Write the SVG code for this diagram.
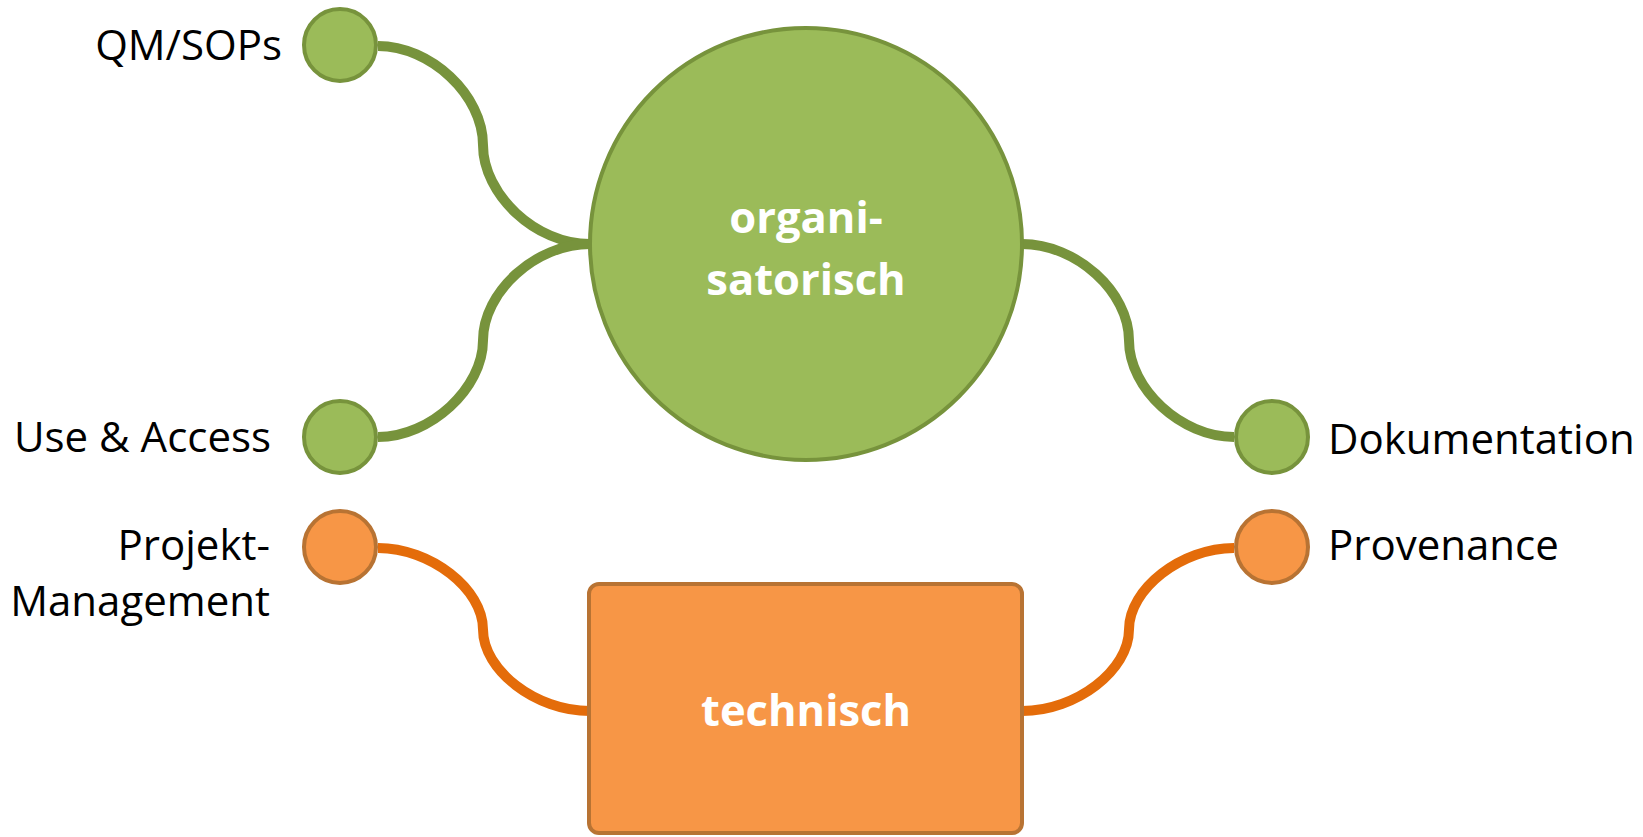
<svg xmlns="http://www.w3.org/2000/svg" width="1643" height="837" viewBox="0 0 1643 837">
<style>
.gl{fill:none;stroke:#77933C;stroke-width:10}
.ol{fill:none;stroke:#E46C0A;stroke-width:10}
.gn{fill:#9BBB59;stroke:#77933C;stroke-width:4}
.on{fill:#F79646;stroke:#B87333;stroke-width:4}
.lbl{font-family:"Open Sans","Liberation Sans",sans-serif;font-size:42px;fill:#000}
.main{font-family:"Open Sans","Liberation Sans",sans-serif;font-size:43.5px;font-weight:bold;fill:#fff;text-anchor:middle}
</style>
<rect width="1643" height="837" fill="#fff"/>
<g id="connectors">
<path class="gl" d="M378,46 C430.5,46 483,95 483,145 C483,194.5 535.5,244 590,244"/>
<path class="gl" d="M378,437 C430.5,437 483,388 483,340.5 C483,292 535.5,244 590,244"/>
<path class="gl" d="M1022,244 C1076.5,244 1129,292 1129,340.5 C1129,389 1181.5,437 1234,437"/>
<path class="ol" d="M378,548 C430.5,548 483,589 483,629.5 C483,670 535.5,711 590,711"/>
<path class="ol" d="M1022,711 C1076.5,711 1129,670 1129,629.5 C1129,589 1181.5,548 1234,548"/>
</g>
<g id="organisatorisch">
<circle class="gn" cx="806" cy="244" r="216"/>
<text class="main" x="806" y="233">organi-</text>
<text class="main" x="806" y="295">satorisch</text>
</g>
<g id="technisch">
<rect class="on" x="589" y="584" width="433" height="249" rx="10"/>
<text class="main" x="806" y="726">technisch</text>
</g>
<g id="qm-sops">
<circle class="gn" cx="340" cy="45" r="36"/>
<text class="lbl" x="282" y="60" text-anchor="end">QM/SOPs</text>
</g>
<g id="use-access">
<circle class="gn" cx="340" cy="437" r="36"/>
<text class="lbl" x="271" y="452" text-anchor="end">Use &amp; Access</text>
</g>
<g id="dokumentation">
<circle class="gn" cx="1272" cy="437" r="36"/>
<text class="lbl" x="1328" y="454">Dokumentation</text>
</g>
<g id="projekt-management">
<circle class="on" cx="340" cy="547" r="36"/>
<text class="lbl" x="270" y="560" text-anchor="end">Projekt-</text>
<text class="lbl" x="270" y="616" text-anchor="end">Management</text>
</g>
<g id="provenance">
<circle class="on" cx="1272" cy="547" r="36"/>
<text class="lbl" x="1328" y="560">Provenance</text>
</g>
</svg>
